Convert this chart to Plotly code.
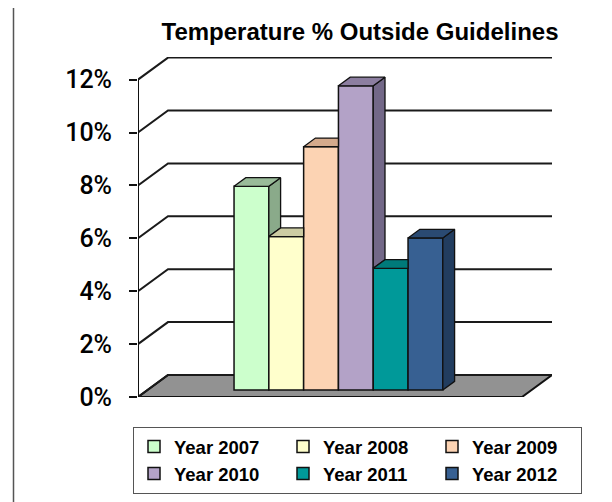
import plotly.graph_objects as go

# ---------------- data ----------------
years = ["Year 2007", "Year 2008", "Year 2009", "Year 2010", "Year 2011", "Year 2012"]
values = [7.7, 5.8, 9.2, 11.5, 4.6, 5.75]          # percent outside guidelines
tick_vals = [0, 2, 4, 6, 8, 10, 12]
tick_text = ["0%", "2%", "4%", "6%", "8%", "10%", "12%"]
title_text = "Temperature % Outside Guidelines"

# ---------------- styles ----------------
front_colors = ["#CCFFCC", "#FFFFCC", "#FCD3B3", "#B3A2C7", "#009999", "#376092"]
top_colors = ["#99BB99", "#CCCCA3", "#D4AA8C", "#8C7EA0", "#007A7A", "#2A4A72"]
side_colors = ["#8AAA8A", "#B8B894", "#C29A7E", "#736888", "#006666", "#223D5F"]

OFF = 8                    # page offset of the figure inside the browser window
W, H = 612 - OFF, 502 - OFF
ML, MT = 138 - OFF, 57 - OFF
MR, MB = 60, 105
PW, PH = W - ML - MR, H - MT - MB
PX = 34.8                 # px per bar slot
PY = 26.45                # px per percent
YMAX = PH / PY
XL = 1 - 103.9 / PX
XR = XL + PW / PX
DX = 30 / PX              # full depth offset in x units
DY = 22 / PY              # full depth offset in y units
Z0, Z1 = 0.318, 0.71      # bar depth span (fraction of full depth)


def px2paper_x(p):
    return (p - OFF - ML) / PW


def px2paper_y(p):
    return (H - MB - (p - OFF)) / PH


fig = go.Figure()

# front faces (bars)
for i, (name, v) in enumerate(zip(years, values), start=1):
    fig.add_trace(go.Bar(
        x=[i + Z0 * DX], y=[v], base=Z0 * DY, width=1, name=name,
        marker=dict(color=front_colors[i - 1], line=dict(color="#111111", width=1.5)),
        hoverinfo="skip"))

# side faces and top faces (oblique projection of the bars)
n = len(values)
for i, v in enumerate(values):
    xc = i + 1
    xl, xr = xc - 0.5, xc + 0.5
    v_next = values[i + 1] if i + 1 < n else 0.0
    # side face, only the part above the neighbouring bar
    if v_next < v:
        lo = v_next
        sx = [xr + Z0 * DX, xr + Z0 * DX, xr + Z1 * DX, xr + Z1 * DX, xr + Z0 * DX]
        sy = [lo + Z0 * DY, v + Z0 * DY, v + Z1 * DY, lo + Z1 * DY, lo + Z0 * DY]
        fig.add_trace(go.Scatter(x=sx, y=sy, mode="lines", fill="toself",
                                 fillcolor=side_colors[i], line=dict(color="#111111", width=1.3),
                                 showlegend=False, hoverinfo="skip"))
    # top face
    if v_next > v:
        tx = [xl + Z0 * DX, xr + Z0 * DX, xr + Z0 * DX, xl + Z1 * DX, xl + Z0 * DX]
        ty = [v + Z0 * DY, v + Z0 * DY, v + Z1 * DY, v + Z1 * DY, v + Z0 * DY]
    else:
        tx = [xl + Z0 * DX, xr + Z0 * DX, xr + Z1 * DX, xl + Z1 * DX, xl + Z0 * DX]
        ty = [v + Z0 * DY, v + Z0 * DY, v + Z1 * DY, v + Z1 * DY, v + Z0 * DY]
    fig.add_trace(go.Scatter(x=tx, y=ty, mode="lines", fill="toself",
                             fillcolor=top_colors[i], line=dict(color="#111111", width=1.3),
                             showlegend=False, hoverinfo="skip"))

shapes = []
# floor
shapes.append(dict(type="path", xref="x", yref="y", layer="below",
                   path=f"M{XL},0 L{XR - DX},0 L{XR},{DY} L{XL + DX},{DY} Z",
                   fillcolor="#929292", line=dict(color="#111111", width=2)))
# back wall gridlines with the diagonal to the front axis
for k in tick_vals:
    shapes.append(dict(type="path", xref="x", yref="y", layer="below",
                       path=f"M{XL},{k} L{XL + DX},{k + DY} L{XR},{k + DY}",
                       line=dict(color="#1a1a1a", width=2)))
# front value axis line
shapes.append(dict(type="line", xref="x", yref="y", layer="below",
                   x0=XL, x1=XL, y0=0, y1=tick_vals[-1],
                   line=dict(color="#111111", width=2)))
# outer frame (left and right edges)
shapes.append(dict(type="line", xref="paper", yref="paper",
                   x0=px2paper_x(13.5), x1=px2paper_x(13.5), y0=px2paper_y(OFF), y1=px2paper_y(502),
                   line=dict(color="#555555", width=1.5)))
shapes.append(dict(type="line", xref="paper", yref="paper",
                   x0=px2paper_x(607.5), x1=px2paper_x(607.5), y0=px2paper_y(OFF), y1=px2paper_y(502),
                   line=dict(color="#555555", width=1.5)))

fig.update_layout(
    width=W, height=H,
    margin=dict(l=ML, r=MR, t=MT, b=MB, autoexpand=False),
    paper_bgcolor="white", plot_bgcolor="rgba(0,0,0,0)",
    barmode="overlay",
    shapes=shapes,
    title=dict(text=title_text, xref="container", yref="container",
               x=(360 - OFF) / W, xanchor="center", y=1 - (32 - OFF) / H, yanchor="middle",
               font=dict(family="Liberation Sans", size=24, color="black", weight="bold")),
    xaxis=dict(range=[XL, XR], visible=False, fixedrange=True),
    yaxis=dict(range=[0, YMAX], tickvals=tick_vals, ticktext=tick_text,
               ticks="outside", ticklen=8, tickwidth=1.5, tickcolor="#111111",
               ticklabelstandoff=12, showgrid=False, zeroline=False, showline=False,
               tickfont=dict(family="Roboto", size=25, color="black", weight=500)),
    legend=dict(orientation="h", x=px2paper_x(133), xanchor="left",
                y=px2paper_y(427), yanchor="top",
                entrywidth=104, entrywidthmode="pixels",
                bordercolor="#555555", borderwidth=1, bgcolor="white",
                font=dict(family="Liberation Sans", size=18.5, color="black", weight="bold"),
                itemclick=False, itemdoubleclick=False),
    showlegend=True,
)

fig.write_html("out.html")
